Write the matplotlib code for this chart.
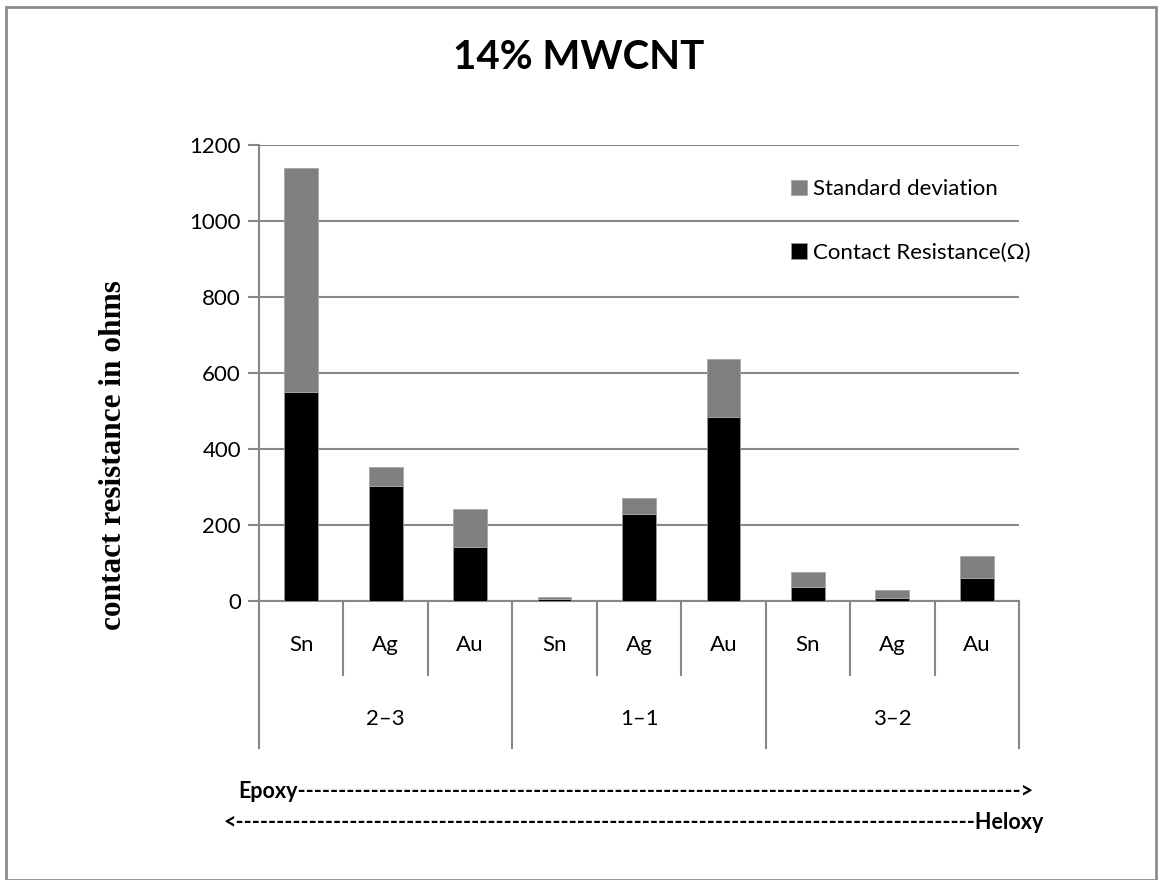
import matplotlib
matplotlib.use("Agg")
import matplotlib.pyplot as plt
from matplotlib.patches import Rectangle
import numpy as np

# contact resistance per electrode, grouped by epoxy:heloxy ratio
groups = ["2\u20133", "1\u20131", "3\u20132"]
metals = ["Sn", "Ag", "Au"]
contact_res = [550, 303, 144, 7, 230, 484, 38, 10, 62]
std_dev = [590, 50, 100, 4, 41, 153, 39, 19, 57]
yticks = [0, 200, 400, 600, 800, 1000, 1200]

plt.rcParams["font.family"] = ["Lato", "DejaVu Sans"]
grid_grey = "#878787"
W, H = 1158, 880

fig = plt.figure(figsize=(W / 100, H / 100), dpi=100)
ax = fig.add_axes([0.2237, 0.3167, 0.6563, 0.5182])

x = np.arange(len(contact_res))
ax.bar(x, contact_res, width=0.4, color="black", edgecolor="#9a9a9a",
       linewidth=0.6, label="Contact Resistance(\u03a9)", zorder=3)
ax.bar(x, std_dev, width=0.4, bottom=contact_res, color="#7f7f7f",
       edgecolor="#a6a6a6", linewidth=0.6, label="Standard deviation", zorder=3)

ax.set_xlim(-0.5, len(x) - 0.5)
ax.set_ylim(0, 1200)
ax.set_yticks(yticks)
ax.tick_params(axis="y", labelsize=16, length=8, width=1.5, color=grid_grey, pad=5)
ax.set_xticks([])
ax.grid(axis="y", color=grid_grey, linewidth=1.5, zorder=0)
for s in ["top", "right"]:
    ax.spines[s].set_visible(False)
for s in ["left", "bottom"]:
    ax.spines[s].set_color(grid_grey)
    ax.spines[s].set_linewidth(1.5)

# two-level category axis below the plot
tr = ax.get_xaxis_transform()
for i in range(len(x) + 1):
    edge = i - 0.5
    depth = -0.322 if i % 3 == 0 else -0.162
    ax.plot([edge, edge], [0, depth], color=grid_grey, lw=1.5,
            transform=tr, clip_on=False)
for i in x:
    ax.text(i, -0.096, metals[i % 3], transform=tr, ha="center", va="center", fontsize=16)
for g, name in enumerate(groups):
    ax.text(3 * g + 1, -0.257, name, transform=tr, ha="center", va="center", fontsize=16)

ax.set_ylabel("contact resistance in ohms", family="Liberation Serif",
              fontweight="bold", fontsize=22.5)
ax.yaxis.set_label_coords(-0.172, 0.32)

handles, labels = ax.get_legend_handles_labels()
ax.legend(handles[::-1], labels[::-1], loc="upper left", bbox_to_anchor=(0.70, 0.925),
          frameon=False, fontsize=16, handlelength=0.7, handleheight=0.7,
          handletextpad=0.3, labelspacing=1.95, borderaxespad=0, borderpad=0)

fig.text(0.5, 0.935, "14% MWCNT", ha="center", va="center",
         fontsize=29, fontweight="bold")


def dashed_arrow(left, right, x0, x1, y):
    # pick the dash run whose right end lands closest to x1 (pixels)
    renderer = fig.canvas.get_renderer()
    best, best_err = 10, None
    for n in range(10, 200):
        t = fig.text(x0 / W, y, left + "-" * n + right, ha="left", va="center",
                     fontsize=15.5, fontweight="bold")
        err = abs(x0 + t.get_window_extent(renderer).width - x1)
        t.remove()
        if best_err is None or err < best_err:
            best, best_err = n, err
    fig.text(x0 / W, y, left + "-" * best + right, ha="left", va="center",
             fontsize=15.5, fontweight="bold")


dashed_arrow("Epoxy", ">", 238, 1034, 1 - 791 / H)
dashed_arrow("<", "Heloxy", 223, 1041, 1 - 822 / H)

fig.patches.append(Rectangle((6 / W, 0.0), 1150 / W, 873 / H,
                             transform=fig.transFigure, fill=False,
                             edgecolor="#8c8c8c", linewidth=2))

fig.savefig("out.png", dpi=100)
